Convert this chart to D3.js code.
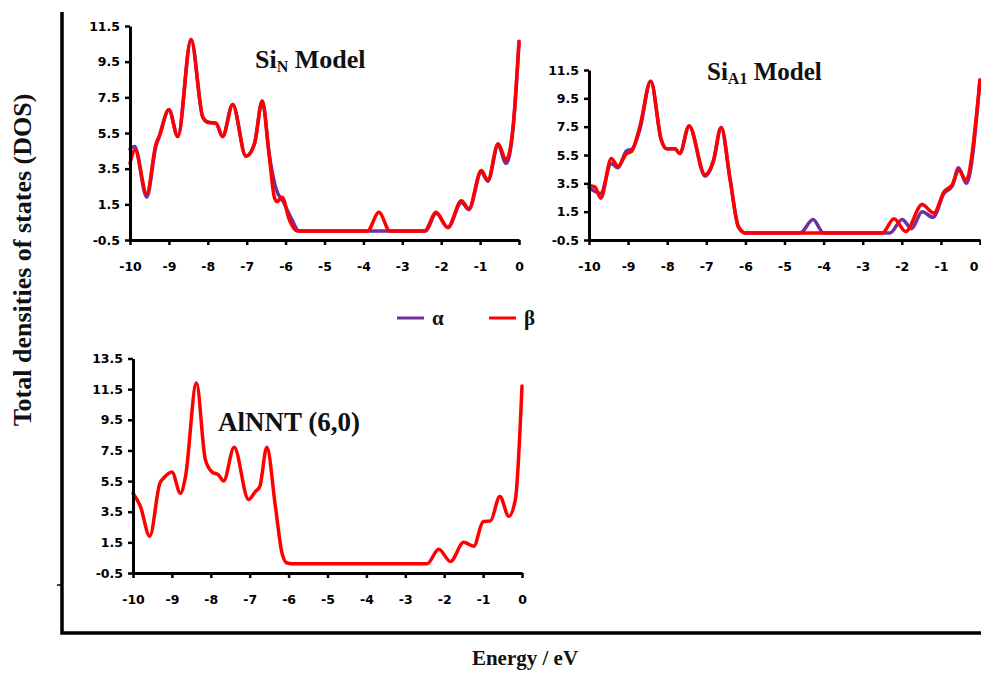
<!DOCTYPE html>
<html>
<head>
<meta charset="utf-8">
<script src="https://cdn.jsdelivr.net/npm/d3@7"></script>
<style>
  body { margin: 0; background: #fff; }
  .tick text { font-family: "DejaVu Sans", sans-serif; font-weight: bold; font-size: 12.5px; fill: #000; }
  .ttl { font-family: "Liberation Serif", "Times New Roman", serif; font-weight: bold; fill: #111; }
</style>
</head>
<body>
<svg id="chart"></svg>
<script>
// energy grid ticks
const xTicks = [-10, -9, -8, -7, -6, -5, -4, -3, -2, -1, 0]
const yTicksSmall = [-0.5, 1.5, 3.5, 5.5, 7.5, 9.5, 11.5]
const yTicksBig = [-0.5, 1.5, 3.5, 5.5, 7.5, 9.5, 11.5, 13.5]

// Si_N model
const siN_alpha_E = [-10, -9.88, -9.57, -9.33, -9.25, -9.0, -8.77, -8.43, -8.13, -8.0, -7.79, -7.62, -7.36, -7.02, -6.8, -6.6, -6.42, -6.25, -6.05, -5.85, -5.65, -2.4, -2.13, -1.83, -1.48, -1.29, -0.97, -0.8, -0.54, -0.33, -0.15, 0]
const siN_alpha_DOS = [4.6, 4.75, 1.9, 4.8, 5.3, 6.8, 5.3, 10.75, 6.4, 6.1, 6.05, 5.3, 7.1, 4.2, 4.9, 7.3, 4.3, 2.4, 1.6, 0.7, 0, 0, 1.0, 0.2, 1.6, 1.2, 3.3, 2.8, 4.8, 3.8, 5.8, 10.6]
const siN_beta_E = [-10, -9.87, -9.57, -9.33, -9.25, -9.0, -8.77, -8.43, -8.13, -8.0, -7.79, -7.62, -7.36, -7.02, -6.8, -6.6, -6.42, -6.29, -6.22, -6.09, -5.9, -5.7, -3.9, -3.6, -3.32, -2.43, -2.13, -1.83, -1.48, -1.29, -0.97, -0.8, -0.54, -0.33, -0.15, 0]
const siN_beta_DOS = [3.8, 4.55, 2.1, 4.9, 5.3, 6.8, 5.3, 10.75, 6.4, 6.1, 6.05, 5.3, 7.1, 4.2, 4.9, 7.3, 4.2, 1.9, 1.65, 1.9, 0.6, 0, 0, 1.05, 0, 0, 1.05, 0.2, 1.7, 1.25, 3.4, 2.85, 4.9, 4.0, 5.9, 10.65]

// Si_Al model
const siAl_alpha_E = [-10, -9.7, -9.43, -9.26, -9.04, -8.91, -8.7, -8.42, -8.15, -8.02, -7.8, -7.68, -7.44, -7.03, -6.82, -6.62, -6.39, -6.18, -6.0, -4.6, -4.27, -4.0, -2.3, -1.99, -1.75, -1.48, -1.2, -0.92, -0.71, -0.55, -0.35, 0]
const siAl_alpha_DOS = [3.2, 2.8, 4.9, 4.6, 5.8, 5.9, 7.3, 10.7, 6.55, 5.95, 5.95, 5.6, 7.55, 4.0, 5.0, 7.45, 3.75, 0.45, 0, 0, 0.95, 0, 0, 0.95, 0.3, 1.5, 1.1, 2.8, 3.3, 4.6, 3.5, 10.8]
const siAl_beta_E = [-10, -9.85, -9.7, -9.43, -9.26, -9.04, -8.91, -8.7, -8.42, -8.15, -8.02, -7.8, -7.68, -7.44, -7.03, -6.82, -6.62, -6.39, -6.18, -6.0, -2.5, -2.2, -1.9, -1.48, -1.18, -0.92, -0.71, -0.54, -0.37, 0]
const siAl_beta_DOS = [3.35, 3.25, 2.45, 5.25, 4.7, 5.6, 5.75, 7.5, 10.7, 6.55, 5.95, 5.95, 5.6, 7.55, 4.1, 5.1, 7.45, 3.75, 0.45, 0, 0, 1.0, 0.1, 2.0, 1.4, 2.9, 3.4, 4.45, 3.75, 10.8]

// pristine AlNNT (6,0)
const alnnt_E = [-10, -9.81, -9.57, -9.31, -9.21, -9.0, -8.78, -8.65, -8.37, -8.14, -7.97, -7.8, -7.67, -7.4, -7.03, -6.86, -6.74, -6.56, -6.34, -6.17, -6.04, -5.9, -2.44, -2.14, -1.84, -1.5, -1.24, -1.0, -0.81, -0.57, -0.34, -0.17, 0]
const alnnt_DOS = [4.7, 3.85, 1.9, 5.35, 5.7, 6.1, 4.7, 5.8, 11.9, 6.9, 6.1, 5.9, 5.5, 7.7, 4.3, 4.8, 5.15, 7.7, 3.85, 0.8, 0.15, 0.1, 0.1, 1.05, 0.25, 1.5, 1.25, 2.85, 2.9, 4.5, 3.2, 4.3, 11.7]

const colA = "#7030a0", colB = "#ff0000"
const zip = (xs, ys) => xs.map((x, i) => [x, ys[i]])
const fmtY = d => d3.format(".1f")(d).replace("\u2212", "-")

const svg = d3.select("#chart").attr("width", 981).attr("height", 676)
svg.append("rect").attr("width", 981).attr("height", 676).attr("fill", "#fff")

const panels = [
  { x0: 130, x1: 519, yb: 240, yt: 26, dom: [-0.5, 11.5], yt_: yTicksSmall,
    lines: [[zip(siN_alpha_E, siN_alpha_DOS), colA], [zip(siN_beta_E, siN_beta_DOS), colB]] },
  { x0: 589, x1: 980, yb: 240, yt: 70, dom: [-0.5, 11.5], yt_: yTicksSmall,
    lines: [[zip(siAl_alpha_E, siAl_alpha_DOS), colA], [zip(siAl_beta_E, siAl_beta_DOS), colB]] },
  { x0: 133, x1: 522, yb: 573, yt: 358.5, dom: [-0.5, 13.5], yt_: yTicksBig,
    lines: [[zip(alnnt_E, alnnt_DOS), colB]] }
]

panels.forEach(p => {
  const x = d3.scaleLinear().domain([-10, 0]).range([p.x0, p.x1])
  const y = d3.scaleLinear().domain(p.dom).range([p.yb, p.yt])
  const g = svg.append("g")

  const line = d3.line().x(d => x(d[0])).y(d => y(d[1])).curve(d3.curveMonotoneX)
  p.lines.forEach(([pts, c]) => {
    g.append("path").datum(pts).attr("d", line)
      .attr("fill", "none").attr("stroke", c).attr("stroke-width", 3.5)
      .attr("stroke-linejoin", "round").attr("stroke-linecap", "round")
  })

  const ay = g.append("g").attr("transform", `translate(${p.x0},0)`)
    .call(d3.axisLeft(y).tickValues(p.yt_).tickFormat(fmtY).tickSize(5).tickSizeOuter(0).tickPadding(5))
  const ax = g.append("g").attr("transform", `translate(0,${p.yb})`)
    .call(d3.axisBottom(x).tickValues(xTicks).tickFormat(d => String(d)).tickSize(5).tickSizeOuter(0).tickPadding(17))
  ;[ay, ax].forEach(a => {
    a.select(".domain").attr("stroke", "#000").attr("stroke-width", 3)
    a.selectAll(".tick line").attr("stroke", "#000").attr("stroke-width", 2.5)
  })
  // last label of the right panel sits on the page edge, keep it inside
  if (p.x1 > 975) ax.selectAll(".tick text").filter(d => d === 0).attr("text-anchor", "end").attr("dx", -2)
})

// panel titles
const t1 = svg.append("text").attr("class", "ttl").attr("x", 255).attr("y", 68).attr("font-size", 26)
t1.append("tspan").text("Si")
t1.append("tspan").attr("font-size", 16).attr("dy", 4).text("N")
t1.append("tspan").attr("dy", -4).text(" Model")

const t2 = svg.append("text").attr("class", "ttl").attr("x", 707).attr("y", 80).attr("font-size", 25)
t2.append("tspan").text("Si")
t2.append("tspan").attr("font-size", 16).attr("dy", 4).text("A1")
t2.append("tspan").attr("dy", -4).text(" Model")

svg.append("text").attr("class", "ttl").attr("x", 218).attr("y", 431).attr("font-size", 27).text("AlNNT (6,0)")

// legend
const legend = [["α", colA, 397], ["β", colB, 489]]
legend.forEach(([lab, c, lx]) => {
  svg.append("line").attr("x1", lx).attr("x2", lx + 27).attr("y1", 318).attr("y2", 318)
    .attr("stroke", c).attr("stroke-width", 3)
  svg.append("text").attr("class", "ttl").attr("x", lx + 35).attr("y", 325).attr("font-size", 21).text(lab)
})

// outer frame
svg.append("path").attr("d", d3.line()([[62, 12], [62, 633], [981, 633]]))
  .attr("fill", "none").attr("stroke", "#000").attr("stroke-width", 3.5)
svg.append("line").attr("x1", 57).attr("x2", 62).attr("y1", 585).attr("y2", 585).attr("stroke", "#000").attr("stroke-width", 1.5)

// axis titles
svg.append("text").attr("class", "ttl").attr("transform", "translate(31,260) rotate(-90)")
  .attr("text-anchor", "middle").attr("font-size", 26).text("Total densities of states (DOS)")
svg.append("text").attr("class", "ttl").attr("x", 525).attr("y", 665)
  .attr("text-anchor", "middle").attr("font-size", 21).text("Energy / eV")
</script>
</body>
</html>
